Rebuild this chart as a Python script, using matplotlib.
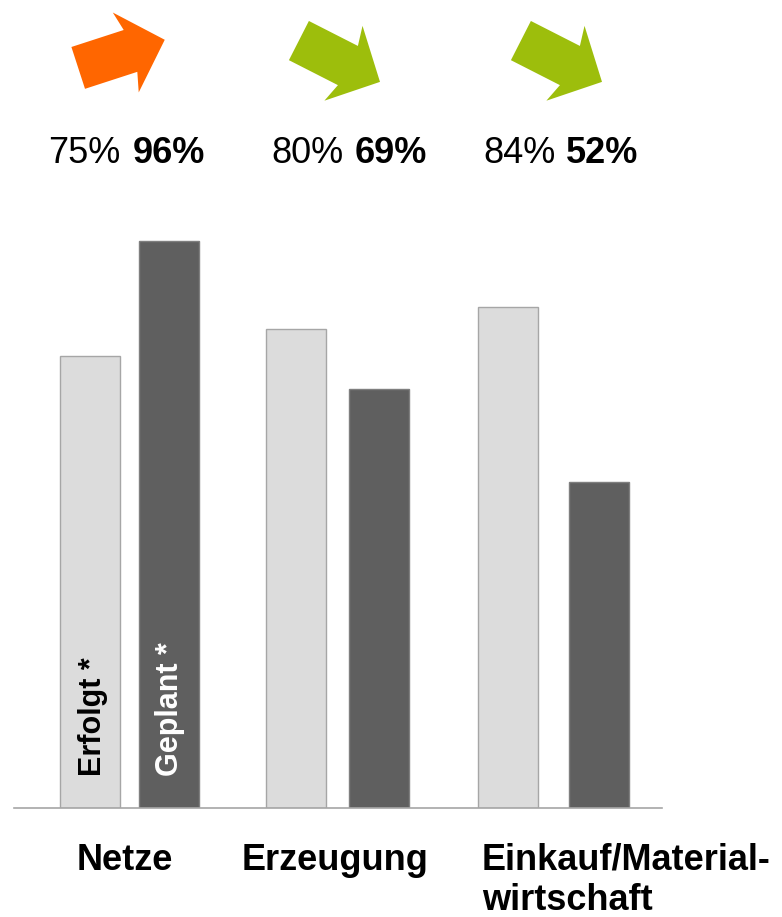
import numpy as np
from matplotlib import pyplot as plt
from matplotlib.patches import Polygon

plt.rcParams['font.family'] = ['Liberation Sans', 'DejaVu Sans']

categories = ['Netze', 'Erzeugung', 'Einkauf/Material-\nwirtschaft']
erfolgt = [75, 80, 84]
geplant = [96, 69, 52]
arrow_colors = ['#FF6600', '#9DBE0C', '#9DBE0C']
arrow_angles = [18, -27, -27]   # Grad, Richtung des Pfeils

W, H = 782, 917
fig = plt.figure(figsize=(W / 100, H / 100), dpi=100)


def fx(x):
    return x / W


def fy(y):
    return 1 - y / H


# Achse: Grundlinie bei y=808 px, Skala beginnt unter 0
base, scale, y0 = 808, 5.475, -7.5
y1 = 100
top = base - (y1 - y0) * scale
ax = fig.add_axes([fx(14), fy(base), fx(662) - fx(14), (base - top) / H])
ax.set_xlim(14, 662)
ax.set_ylim(y0, y1)

x_erf = [90, 295.5, 508]
x_gep = [169, 379, 599]
ax.bar(x_erf, np.array(erfolgt) - y0, bottom=y0, width=60, color='#DCDCDC',
       edgecolor='#A6A6A6', linewidth=1)
ax.bar(x_gep, np.array(geplant) - y0, bottom=y0, width=60, color='#5F5F5F',
       edgecolor='#7F7F7F', linewidth=1)

for s in ['top', 'right', 'left']:
    ax.spines[s].set_visible(False)
ax.spines['bottom'].set_color('#A6A6A6')
ax.spines['bottom'].set_linewidth(1.2)
ax.set_xticks([])
ax.set_yticks([])

# Beschriftung in den Balken
ax.text(x_erf[0] + 3, y0 + 32 / scale, 'Erfolgt *', rotation=90, ha='center',
        va='bottom', fontsize=22, fontweight='bold', color='black')
ax.text(x_gep[0] + 1, y0 + 32 / scale, 'Geplant *', rotation=90, ha='center',
        va='bottom', fontsize=22, fontweight='bold', color='white')

# Kategorien
fig.text(fx(125), fy(870), categories[0], ha='center', va='baseline',
         fontsize=26, fontweight='bold')
fig.text(fx(335), fy(870), categories[1], ha='center', va='baseline',
         fontsize=26, fontweight='bold')
fig.text(fx(482), fy(870), 'Einkauf/Material-', ha='left', va='baseline',
         fontsize=26, fontweight='bold')
fig.text(fx(482), fy(910), 'wirtschaft', ha='left', va='baseline',
         fontsize=26, fontweight='bold')

# Prozentwerte oben
reg_x = [48, 271, 483]
bold_x = [133, 355, 566]
for i in range(3):
    fig.text(fx(reg_x[i]), fy(163), f'{erfolgt[i]}%', ha='left', va='baseline',
             fontsize=26)
    fig.text(fx(bold_x[i]), fy(163), f'{geplant[i]}%', ha='left', va='baseline',
             fontsize=26, fontweight='bold')

# Pfeile
shape = np.array([[-45, -22], [10, -22], [5, -42], [46, 0],
                  [5, 42], [10, 22], [-45, 22]], dtype=float)
centers = [(121, 54), (339, 61), (561, 61)]
ov = fig.add_axes([0, 0, 1, 1], zorder=-1)
ov.set_xlim(0, W)
ov.set_ylim(H, 0)
ov.axis('off')
for (cx, cy), ang, col in zip(centers, arrow_angles, arrow_colors):
    a = np.deg2rad(-ang)
    rot = np.array([[np.cos(a), -np.sin(a)], [np.sin(a), np.cos(a)]])
    pts = shape @ rot.T + [cx, cy]
    ov.add_patch(Polygon(pts, closed=True, color=col, lw=0))

fig.savefig('out.png', dpi=100)
